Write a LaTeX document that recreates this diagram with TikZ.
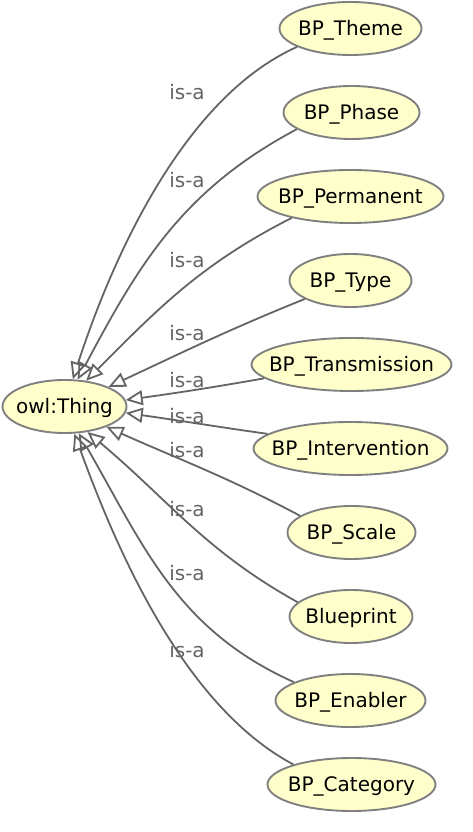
\documentclass[tikz,border=0pt]{standalone}
\usepackage{fontspec}
\setmainfont{DejaVu Sans}
\usetikzlibrary{arrows.meta,shapes.geometric}
\definecolor{clsfill}{RGB}{255,255,204}
\definecolor{clsborder}{RGB}{128,128,128}
\definecolor{isagray}{RGB}{100,100,100}

\begin{document}
\begin{tikzpicture}[
    x=1pt, y=1pt,
    cls/.style={ellipse, draw=clsborder, fill=clsfill, line width=1.9pt,
        inner xsep=-12pt, inner ysep=0pt, minimum height=53pt,
        text height=15pt, text depth=0pt,
        font=\fontsize{20}{24}\selectfont},
    isa/.style={draw=isagray, line width=1.8pt,
        -{Triangle[open, length=17pt, width=15pt]}},
    lab/.style={font=\fontsize{20}{24}\selectfont, text=isagray, inner sep=0pt}
]
\useasboundingbox (0,0) rectangle (472,832);

% classes
\node[cls, minimum width=124pt] (thing) at (64.5,425.5) {owl:Thing};
\node[cls, minimum width=142pt] (theme) at (350.5,803.5) {BP\_Theme};
\node[cls, minimum width=136pt] (phase) at (351.5,719.5) {BP\_Phase};
\node[cls, minimum width=186pt] (permanent) at (350.5,635.5) {BP\_Permanent};
\node[cls, minimum width=122pt] (type) at (350.5,551.5) {BP\_Type};
\node[cls, minimum width=200pt] (transmission) at (351.5,467.5) {BP\_Transmission};
\node[cls, minimum width=194pt] (intervention) at (350.5,383.5) {BP\_Intervention};
\node[cls, minimum width=128pt] (scale) at (351.5,299.5) {BP\_Scale};
\node[cls, minimum width=123pt] (blueprint) at (351,215.5) {Blueprint};
\node[cls, minimum width=150pt] (enabler) at (350.5,131.5) {BP\_Enabler};
\node[cls, minimum width=168pt] (category) at (351.5,47.5) {BP\_Category};

% is-a links
\draw[isa] (theme.199) to[out=204, in=72, looseness=0.8] (thing.73);
\draw[isa] (phase.197) to[out=208, in=62] (thing.64);
\draw[isa] (permanent.200) to[out=207, in=45] (thing.50);
\draw[isa] (type.202) to[out=202, in=25] (thing.24);
\draw[isa] (transmission.189) to[out=190, in=8] (thing.6);
\draw[isa] (intervention.170) to[out=172, in=-8] (thing.-6);
\draw[isa] (scale.162) to[out=152, in=-24] (thing.-26);
\draw[isa] (blueprint.165) to[out=151, in=-40] (thing.-48);
\draw[isa] (enabler.162) to[out=156, in=-60] (thing.-62);
\draw[isa] (category.161) to[out=152, in=-70, looseness=0.8] (thing.-70);

\node[lab] (l-theme) at (187,739.5) {is-a};
\node[lab] (l-phase) at (187,651.5) {is-a};
\node[lab] (l-permanent) at (187,571.5) {is-a};
\node[lab] (l-type) at (187,498.5) {is-a};
\node[lab] (l-transmission) at (187,451.5) {is-a};
\node[lab] (l-intervention) at (187,415.5) {is-a};
\node[lab] (l-scale) at (187,381.5) {is-a};
\node[lab] (l-blueprint) at (187,322.5) {is-a};
\node[lab] (l-enabler) at (187,258.5) {is-a};
\node[lab] (l-category) at (187,181.5) {is-a};
\end{tikzpicture}
\end{document}
